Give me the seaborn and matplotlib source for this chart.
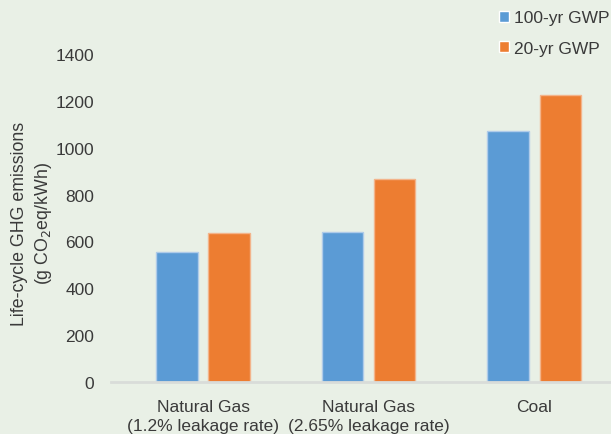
import pandas as pd
import matplotlib.pyplot as plt
import seaborn as sns

# data
categories = ["Natural Gas\n(1.2% leakage rate)", "Natural Gas\n(2.65% leakage rate)", "Coal"]
gwp_100 = [555, 642, 1070]
gwp_20 = [635, 868, 1223]
series_names = ["100-yr GWP", "20-yr GWP"]
y_ticks = [0, 200, 400, 600, 800, 1000, 1200, 1400]

df = pd.DataFrame({
    "category": categories * 2,
    "value": gwp_100 + gwp_20,
    "series": [series_names[0]] * 3 + [series_names[1]] * 3,
})

bg = "#E9F0E6"
txt = "#3a3a3a"
colors = ["#5B9BD5", "#ED7D31"]

sns.set_theme(style="white")
plt.rcParams["font.family"] = ["Liberation Sans", "DejaVu Sans"]

fig = plt.figure(figsize=(6.11, 4.35), dpi=100, facecolor=bg)
ax = fig.add_axes([111 / 611, 1 - 383 / 435, 500 / 611, 328 / 435], facecolor=bg)

sns.barplot(data=df, x="category", y="value", hue="series", palette=colors,
            width=0.63, gap=0.21, ax=ax, saturation=1)

# light outline on each bar
edge = {colors[0]: "#AFCBE9", colors[1]: "#F3B48B"}
for cont, c in zip(ax.containers, colors):
    for bar in cont:
        bar.set_edgecolor(edge[c])
        bar.set_linewidth(1)

ax.set_ylim(0, 1400)
ax.set_xlim(-0.556, 2.465)
ax.set_yticks(y_ticks)
ax.tick_params(axis="both", length=0, labelsize=12.5, labelcolor=txt)
ax.tick_params(axis="y", pad=12)
ax.tick_params(axis="x", pad=12)
for lbl in ax.get_xticklabels():
    lbl.set_linespacing(1.4)

for s in ["top", "right", "left"]:
    ax.spines[s].set_visible(False)
ax.spines["bottom"].set_color("#D9DCD9")
ax.spines["bottom"].set_linewidth(2)

ax.set_xlabel("")
ax.set_ylabel("Life-cycle GHG emissions\n(g CO$_2$eq/kWh)", fontsize=12.8, color=txt,
              linespacing=1.35)
ax.yaxis.set_label_coords(-0.114, 0.485)

handles, labels = ax.get_legend_handles_labels()
ax.get_legend().remove()
fig.legend(handles, labels, loc="upper right", bbox_to_anchor=(0.997, 0.974),
           frameon=False, fontsize=12.5, labelcolor=txt, handlelength=0.6,
           handleheight=0.6, handletextpad=0.25, labelspacing=0.9,
           borderpad=0, borderaxespad=0)

fig.savefig("out.png", dpi=100, facecolor=bg)
